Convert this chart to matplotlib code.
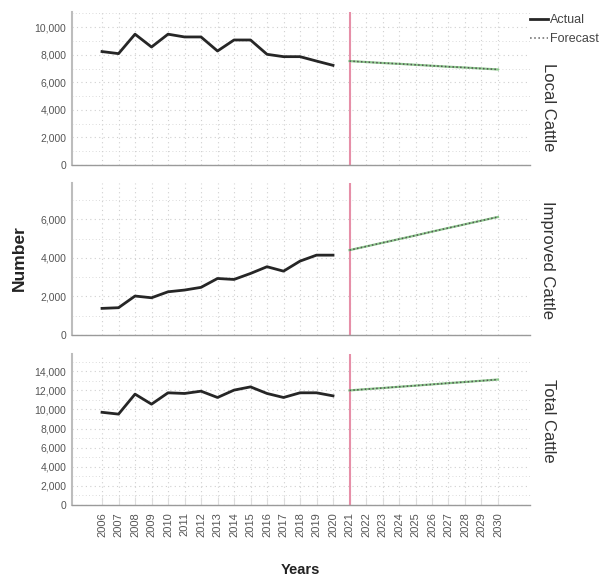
import matplotlib
matplotlib.use("Agg")
import matplotlib.pyplot as plt
from matplotlib.lines import Line2D
from matplotlib.ticker import MultipleLocator, FuncFormatter

plt.rcParams['font.family'] = ['Liberation Sans', 'DejaVu Sans']

years_actual = list(range(2006, 2021))
years_forecast = list(range(2021, 2031))
all_years = list(range(2006, 2031))

local_actual = [8230, 8080, 9490, 8560, 9490, 9290, 9290, 8270, 9070, 9070, 8030, 7860, 7860, 7540, 7230]
improved_actual = [1380, 1415, 2020, 1930, 2240, 2330, 2470, 2930, 2880, 3190, 3540, 3310, 3830, 4140, 4140]
total_actual = [9700, 9510, 11600, 10550, 11740, 11670, 11910, 11250, 12020, 12360, 11670, 11250, 11740, 11740, 11420]

local_forecast = [7540, 7470, 7400, 7340, 7270, 7200, 7130, 7070, 7000, 6930]
improved_forecast = [4400, 4590, 4780, 4970, 5160, 5360, 5550, 5740, 5930, 6120]
total_forecast = [11990, 12120, 12240, 12370, 12490, 12620, 12750, 12870, 13000, 13130]

panel_names = ["Local Cattle", "Improved Cattle", "Total Cattle"]
panel_yticks = [[0, 2000, 4000, 6000, 8000, 10000],
                [0, 2000, 4000, 6000],
                [0, 2000, 4000, 6000, 8000, 10000, 12000, 14000]]
panel_ymax = [11100, 7880, 15800]

actual_series = [local_actual, improved_actual, total_actual]
forecast_series = [local_forecast, improved_forecast, total_forecast]

fig = plt.figure(figsize=(6.08, 5.78), dpi=100)

rects = [
    [72/608, 1-165/578, 458/608, 153/578],
    [72/608, 1-335/578, 458/608, 152/578],
    [72/608, 1-505/578, 458/608, 151/578],
]
label_centers = [107, 260, 421]

grid_color = '#cfcfcf'
axis_color = '#9a9a9a'
tick_color = '#555555'

for i in range(3):
    ax = fig.add_axes(rects[i])
    ax.set_xlim(2004.18, 2031.94)
    ax.set_ylim(0, panel_ymax[i])
    ax.set_yticks(panel_yticks[i])
    ax.yaxis.set_minor_locator(MultipleLocator(1000))
    ax.yaxis.set_major_formatter(FuncFormatter(lambda v, p: f"{int(v):,}"))
    ax.set_xticks(all_years)
    ax.grid(True, which='major', axis='both', linestyle=(0, (1, 3)), color=grid_color, linewidth=0.8)
    ax.grid(True, which='minor', axis='y', linestyle=(0, (1, 3)), color=grid_color, linewidth=0.6)
    for s in ['top', 'right']:
        ax.spines[s].set_visible(False)
    ax.spines['left'].set_color('#bdbdbd')
    ax.spines['left'].set_linewidth(1.5)
    ax.spines['bottom'].set_color(axis_color)
    ax.spines['bottom'].set_linewidth(1.0)
    ax.tick_params(axis='y', which='both', length=0, labelsize=7.5, labelcolor=tick_color, pad=4)
    ax.tick_params(axis='x', which='both', direction='in', length=6, color='#dddddd')
    if i < 2:
        ax.tick_params(axis='x', labelbottom=False, length=0)
    else:
        ax.set_xticklabels([str(y) for y in all_years], rotation=90, fontsize=8, color=tick_color)
        ax.tick_params(axis='x', pad=5)

    ax.axvline(2021, color='#e68fa8', linewidth=1.5, zorder=2)
    ax.plot(years_actual, actual_series[i], color='#262626', linewidth=2.0, solid_joinstyle='round', zorder=4)
    ax.plot(years_forecast, forecast_series[i], color='#8cc88c', linewidth=1.6, zorder=3)
    ax.plot(years_forecast, forecast_series[i], color='#555555', linewidth=1.1, linestyle=(0, (1, 1.5)), zorder=4)

    fig.text(548/608, 1 - label_centers[i]/578, panel_names[i], rotation=-90, ha='center', va='center',
             fontsize=12, color='#333333')

fig.text(19/608, 1 - 258/578, "Number", rotation=90, ha='center', va='center',
         fontsize=12.5, fontweight='bold', color='#222222')
fig.text(300/608, 1 - 570/578, "Years", ha='center', va='center',
         fontsize=10.5, fontweight='bold', color='#222222')

handles = [Line2D([0], [0], color='#262626', linewidth=2.0),
           Line2D([0], [0], color='#777777', linewidth=1.2, linestyle=(0, (1, 1.5)))]
fig.legend(handles, ["Actual", "Forecast"], loc='upper left', bbox_to_anchor=(530/608, 1 - 14/578),
           frameon=False, fontsize=9, handlelength=1.4, handletextpad=0.2, labelspacing=0.6,
           borderaxespad=0, borderpad=0.0, labelcolor='#444444')

fig.savefig("out.png", dpi=100, facecolor='white')
